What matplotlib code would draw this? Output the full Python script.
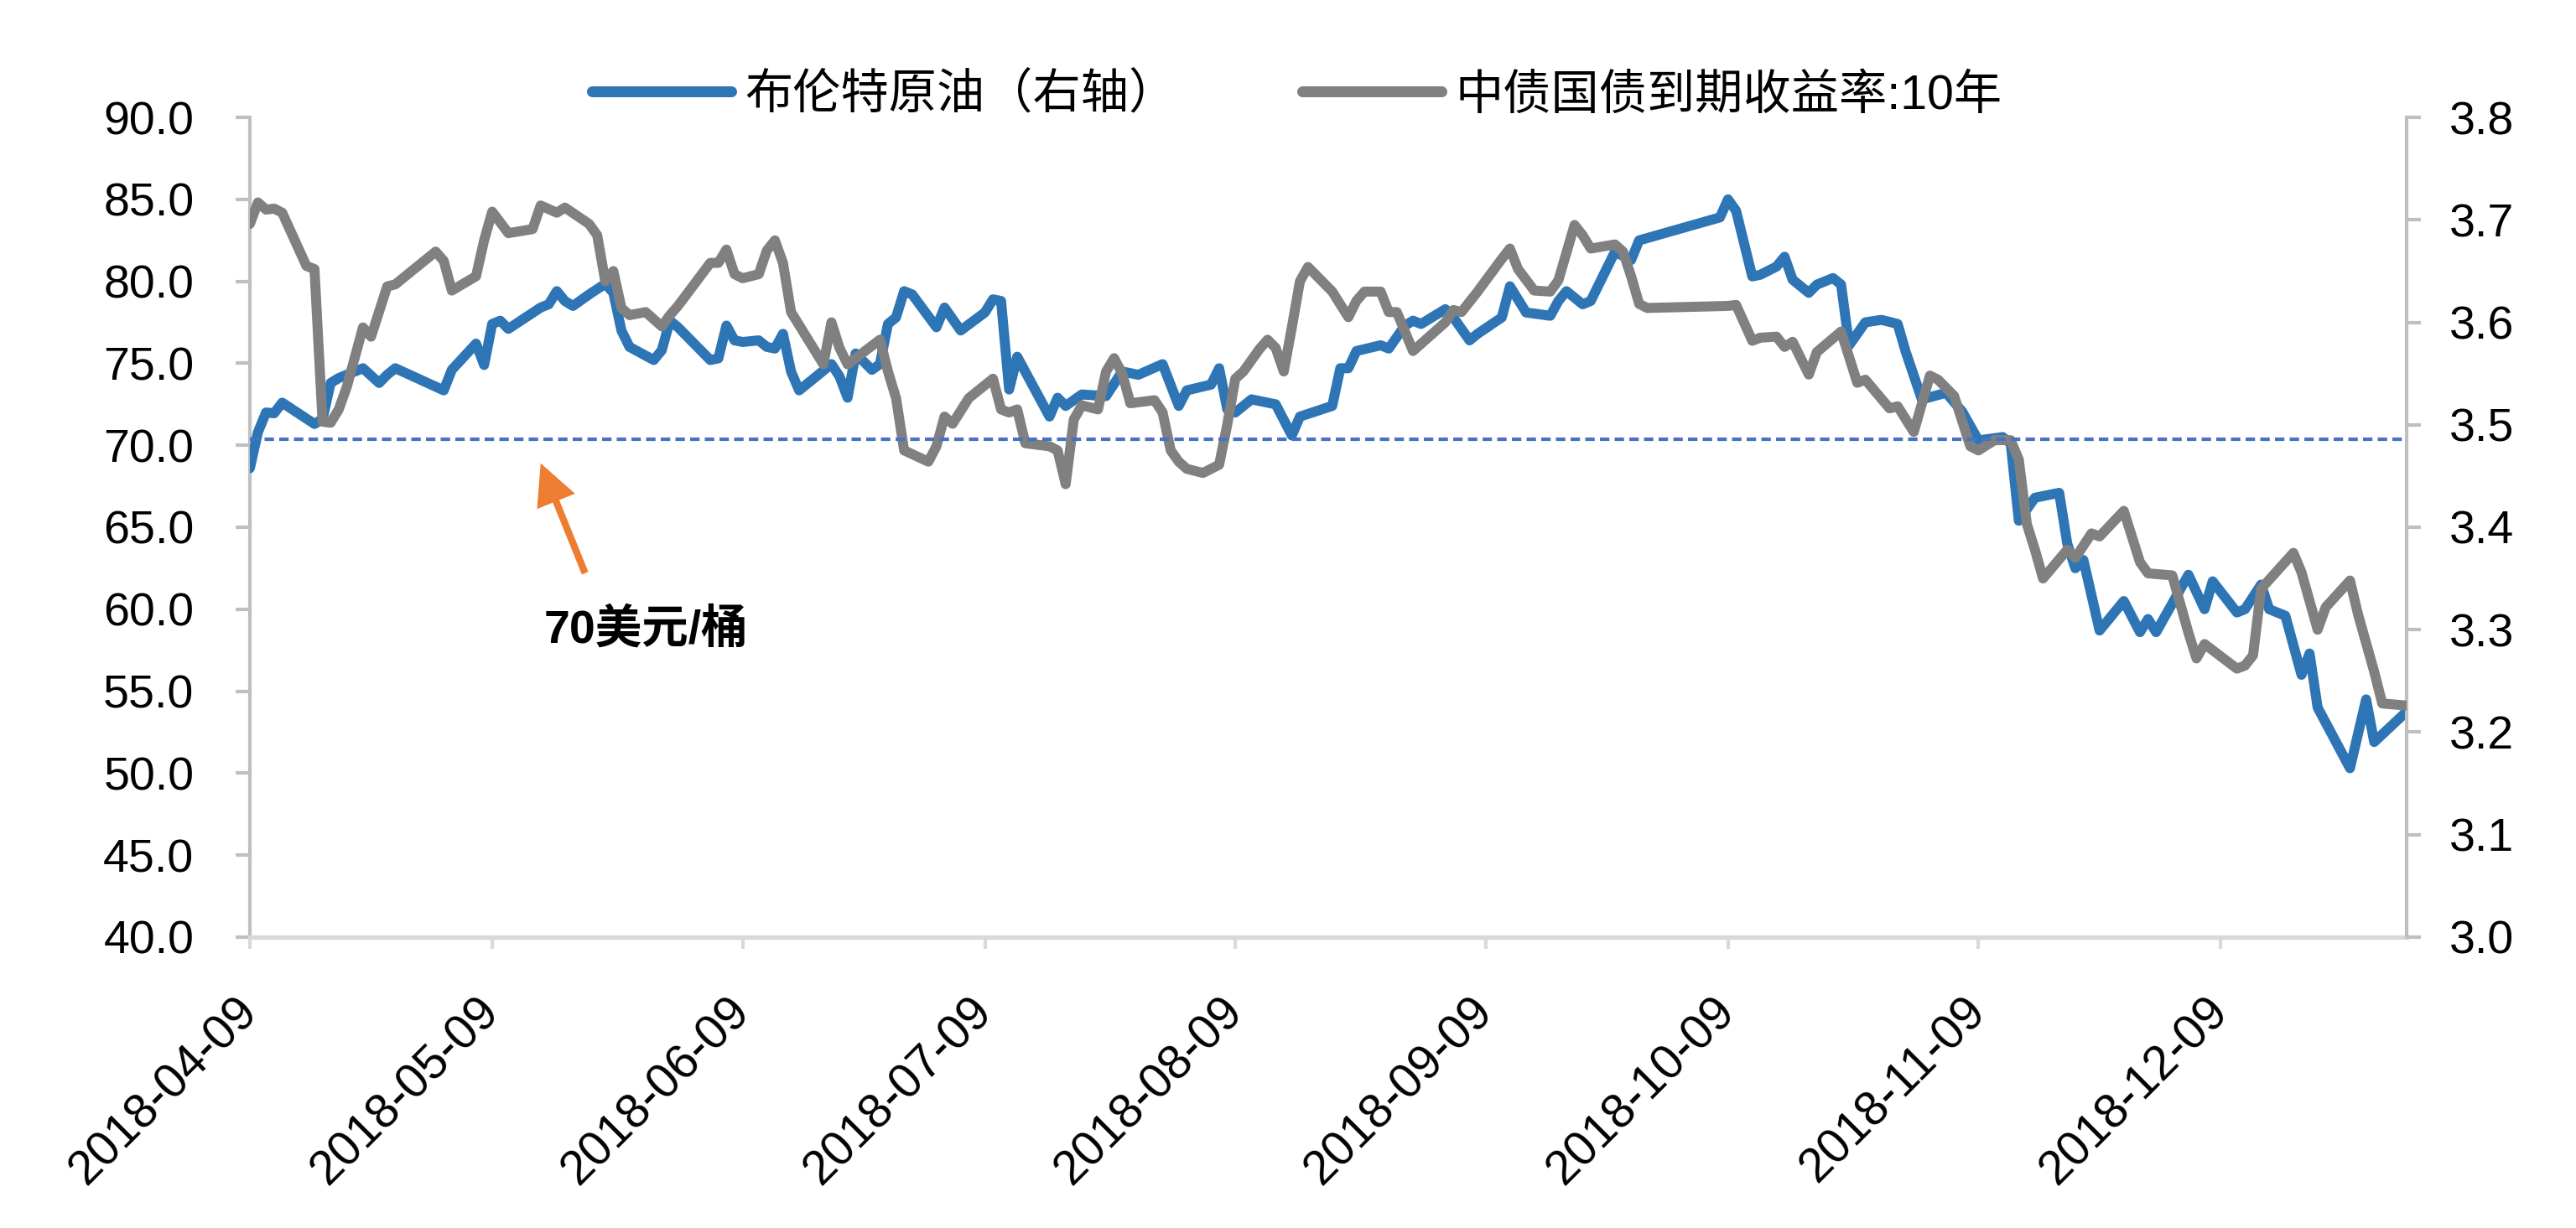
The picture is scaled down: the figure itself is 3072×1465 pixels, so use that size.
import matplotlib
matplotlib.use('Agg')
import matplotlib.pyplot as plt
import matplotlib.dates as mdates
import matplotlib.transforms as mtransforms
from matplotlib.lines import Line2D
from matplotlib.ticker import FormatStrFormatter
import pandas as pd

plt.rcParams['font.family'] = ['Liberation Sans', 'Noto Sans CJK SC', 'DejaVu Sans']

# ---------------- data ----------------
START = '2018-04-09'
END = '2019-01-01'

brent_days = [0, 1, 2, 3, 4, 8, 9, 10, 11, 14, 16, 17, 18, 24, 25, 28, 29, 30, 31, 32,
              36, 37, 38, 39, 40, 42, 44, 45, 46, 47, 50, 51, 52, 53, 57, 58, 59, 60, 61, 63,
              64, 65, 66, 67, 68, 72, 73, 74, 75, 77, 78, 79, 80, 81, 82, 85, 86, 88, 91, 92,
              93, 94, 95, 99, 100, 101, 103, 106, 108, 110, 113, 115, 116, 119, 120, 121, 122, 124, 127, 129,
              130, 134, 135, 136, 137, 140, 141, 143, 144, 145, 148, 149, 151, 152, 155, 156, 158, 161, 162, 163,
              165, 166, 169, 171, 172, 182, 183, 184, 186, 187, 189, 190, 191, 193, 194, 196, 197, 198, 200, 202,
              204, 205, 207, 210, 212, 214, 217, 218, 219, 221, 224, 225, 226, 227, 229, 232, 234, 235, 236, 240,
              242, 243, 246, 247, 249, 250, 252, 254, 255, 256, 260, 262, 263, 267]
brent_values = [68.6, 70.8, 72.0, 71.95, 72.6, 71.3, 71.6, 73.8, 74.1, 74.7, 73.8, 74.3, 74.7, 73.35, 74.6, 76.2, 74.9, 77.4, 77.6, 77.1,
                78.4, 78.6, 79.4, 78.8, 78.5, 79.2, 79.85, 79.3, 77.0, 76.0, 75.2, 75.8, 77.6, 77.2, 75.2, 75.3, 77.3, 76.4, 76.3, 76.4,
                76.0, 75.9, 76.8, 74.5, 73.35, 74.95, 74.2, 72.9, 75.6, 74.6, 74.95, 77.4, 77.8, 79.4, 79.2, 77.2, 78.4, 77.0, 78.1, 78.9,
                78.8, 73.4, 75.4, 71.75, 72.9, 72.4, 73.1, 73.0, 74.5, 74.3, 74.95, 72.4, 73.35, 73.7, 74.7, 72.2, 72.0, 72.8, 72.5, 70.6,
                71.75, 72.4, 74.7, 74.7, 75.75, 76.1, 75.9, 77.3, 77.6, 77.4, 78.3, 77.8, 76.4, 76.8, 77.8, 79.7, 78.1, 77.9, 78.8, 79.4,
                78.6, 78.8, 81.8, 81.3, 82.5, 83.9, 85.0, 84.3, 80.3, 80.4, 80.9, 81.5, 80.1, 79.3, 79.8, 80.2, 79.8, 76.1, 77.5, 77.65,
                77.4, 75.7, 72.8, 73.2, 72.05, 70.3, 70.5, 70.1, 65.4, 66.8, 67.1, 64.0, 62.5, 63.0, 58.7, 60.5, 58.6, 59.4, 58.6, 62.1,
                60.0, 61.7, 59.8, 60.0, 61.5, 60.0, 59.6, 56.0, 57.3, 54.0, 50.3, 54.5, 51.9, 53.75]

yield_days = [0, 1, 2, 3, 4, 7, 8, 9, 10, 11, 12, 14, 15, 17, 18, 23, 24, 25, 28, 29,
              30, 32, 35, 36, 38, 39, 42, 43, 44, 45, 46, 47, 49, 50, 51, 52, 53, 57, 58, 59,
              60, 61, 63, 64, 65, 66, 67, 71, 72, 73, 74, 78, 79, 80, 81, 84, 85, 86, 87, 89,
              92, 93, 94, 95, 96, 99, 100, 101, 102, 103, 105, 106, 107, 108, 109, 112, 113, 114, 115, 116,
              118, 120, 121, 122, 123, 125, 126, 127, 128, 129, 130, 131, 134, 136, 137, 138, 140, 141, 142, 144,
              148, 149, 150, 152, 155, 156, 157, 159, 161, 162, 164, 165, 166, 169, 170, 171, 172, 173, 183, 184,
              186, 187, 189, 190, 191, 193, 194, 197, 199, 200, 203, 204, 206, 208, 209, 211, 213, 214, 216, 218,
              219, 220, 221, 222, 225, 226, 228, 229, 232, 234, 235, 238, 240, 241, 242, 246, 247, 248, 249, 253,
              254, 256, 257, 260, 261, 263, 264, 267]
yield_values = [3.696, 3.717, 3.710, 3.711, 3.707, 3.655, 3.652, 3.503, 3.502, 3.515, 3.537, 3.595, 3.586, 3.635, 3.637, 3.669, 3.660, 3.631, 3.645, 3.680,
                3.708, 3.687, 3.691, 3.714, 3.707, 3.712, 3.696, 3.685, 3.640, 3.650, 3.614, 3.607, 3.610, 3.603, 3.596, 3.607, 3.616, 3.658, 3.658, 3.671,
                3.647, 3.643, 3.647, 3.670, 3.680, 3.658, 3.610, 3.559, 3.600, 3.575, 3.559, 3.583, 3.552, 3.526, 3.475, 3.464, 3.479, 3.508, 3.501, 3.526,
                3.545, 3.515, 3.512, 3.515, 3.482, 3.479, 3.475, 3.442, 3.505, 3.519, 3.515, 3.552, 3.565, 3.550, 3.521, 3.524, 3.512, 3.475, 3.464, 3.457,
                3.453, 3.461, 3.500, 3.545, 3.552, 3.574, 3.583, 3.575, 3.552, 3.595, 3.640, 3.654, 3.630, 3.605, 3.621, 3.630, 3.630, 3.610, 3.610, 3.572,
                3.600, 3.612, 3.610, 3.630, 3.662, 3.672, 3.652, 3.631, 3.630, 3.641, 3.695, 3.685, 3.672, 3.676, 3.669, 3.645, 3.618, 3.614, 3.616, 3.617,
                3.582, 3.585, 3.586, 3.576, 3.581, 3.549, 3.571, 3.591, 3.541, 3.544, 3.516, 3.518, 3.493, 3.548, 3.544, 3.528, 3.479, 3.475, 3.485, 3.485,
                3.466, 3.403, 3.378, 3.350, 3.378, 3.370, 3.394, 3.391, 3.416, 3.366, 3.355, 3.353, 3.297, 3.272, 3.286, 3.262, 3.265, 3.275, 3.340, 3.375,
                3.356, 3.300, 3.322, 3.348, 3.315, 3.259, 3.228, 3.226]

tick_labels = ['2018-04-09', '2018-05-09', '2018-06-09', '2018-07-09', '2018-08-09',
               '2018-09-09', '2018-10-09', '2018-11-09', '2018-12-09']
series_names = ['布伦特原油（右轴）', '中债国债到期收益率:10年']
threshold = 70.35
threshold_label = '70美元/桶'
arrow_tip = ('2018-05-15', 68.9)
arrow_tail = ('2018-05-20 12:00', 62.2)
label_pos = ('2018-05-28', 58.7)

# ---------------- styles ----------------
BLUE = '#2E75B6'
GREY = '#808080'
DASH = '#4472C4'
ORANGE = '#ED7D31'
AXIS_GREY = '#BFBFBF'
BOTTOM_GREY = '#D9D9D9'

start = pd.Timestamp(START)
brent_dates = start + pd.to_timedelta(brent_days, unit='D')
yield_dates = start + pd.to_timedelta(yield_days, unit='D')

fig = plt.figure(figsize=(15.36, 7.325), dpi=200)
ax = fig.add_axes([0.0970, 0.2369, 0.9342 - 0.0970, 0.9044 - 0.2369])
ax2 = ax.twinx()

ax.plot(brent_dates, brent_values, color=BLUE, lw=4.3,
        solid_joinstyle='round', solid_capstyle='round', zorder=3)
ax2.plot(yield_dates, yield_values, color=GREY, lw=4.3,
         solid_joinstyle='round', solid_capstyle='round', zorder=3)

ax.set_xlim(pd.Timestamp(START), pd.Timestamp(END))
ax.set_ylim(40, 90)
ax2.set_ylim(3.0, 3.8)
ax.set_yticks([40 + 5 * i for i in range(11)])
ax2.set_yticks([3.0 + 0.1 * i for i in range(9)])
ax.yaxis.set_major_formatter(FormatStrFormatter('%.1f'))
ax2.yaxis.set_major_formatter(FormatStrFormatter('%.1f'))

ax.set_xticks(pd.to_datetime(tick_labels))
ax.set_xticklabels(tick_labels, rotation=45, ha='right', va='center',
                   rotation_mode='anchor')

for a in (ax, ax2):
    a.spines['top'].set_visible(False)
ax.spines['right'].set_visible(False)
ax2.spines['left'].set_visible(False)
ax2.spines['bottom'].set_visible(False)
ax.spines['left'].set_color(AXIS_GREY)
ax.spines['left'].set_linewidth(1.5)
ax2.spines['right'].set_color(AXIS_GREY)
ax2.spines['right'].set_linewidth(1.5)
ax.spines['bottom'].set_color(BOTTOM_GREY)
ax.spines['bottom'].set_linewidth(1.9)

ax.tick_params(axis='y', direction='out', length=6, width=1.5, color=AXIS_GREY,
               pad=18, labelsize=20)
ax2.tick_params(axis='y', direction='out', length=6, width=1.5, color=AXIS_GREY,
                pad=12.5, labelsize=20)
ax.tick_params(axis='x', direction='out', length=5, width=1.5, color=BOTTOM_GREY,
               pad=24, labelsize=20.5)

# threshold line (drawn on top of both series)
blend = mtransforms.blended_transform_factory(ax2.transAxes, ax.transData)
ax2.plot([0, 1], [threshold, threshold], transform=blend, color=DASH, lw=1.5,
         linestyle=(0, (2.7, 1.5)), zorder=5, clip_on=False)

# arrow + label
tip = (mdates.date2num(pd.Timestamp(arrow_tip[0])), arrow_tip[1])
tail = (mdates.date2num(pd.Timestamp(arrow_tail[0])), arrow_tail[1])
ax2.annotate('', xy=tip, xycoords=ax.transData, xytext=tail, textcoords=ax.transData,
             arrowprops=dict(arrowstyle='simple,head_length=1.0,head_width=1.0,tail_width=0.17',
                             mutation_scale=17.6, fc=ORANGE, ec=ORANGE, lw=0,
                             shrinkA=0, shrinkB=0), zorder=6)
ax2.text(mdates.date2num(pd.Timestamp(label_pos[0])), label_pos[1], threshold_label,
         transform=ax.transData, ha='center', va='center', fontsize=20,
         fontweight='bold', zorder=6)

handles = [Line2D([], [], color=BLUE, lw=4.7, solid_capstyle='round'),
           Line2D([], [], color=GREY, lw=4.7, solid_capstyle='round')]
fig.legend(handles, series_names, loc='center', bbox_to_anchor=(0.5035, 0.922),
           ncol=2, frameon=False, fontsize=20.6, handlelength=2.9,
           handletextpad=0.3, columnspacing=2.6)

fig.savefig('out.png', dpi=200)
